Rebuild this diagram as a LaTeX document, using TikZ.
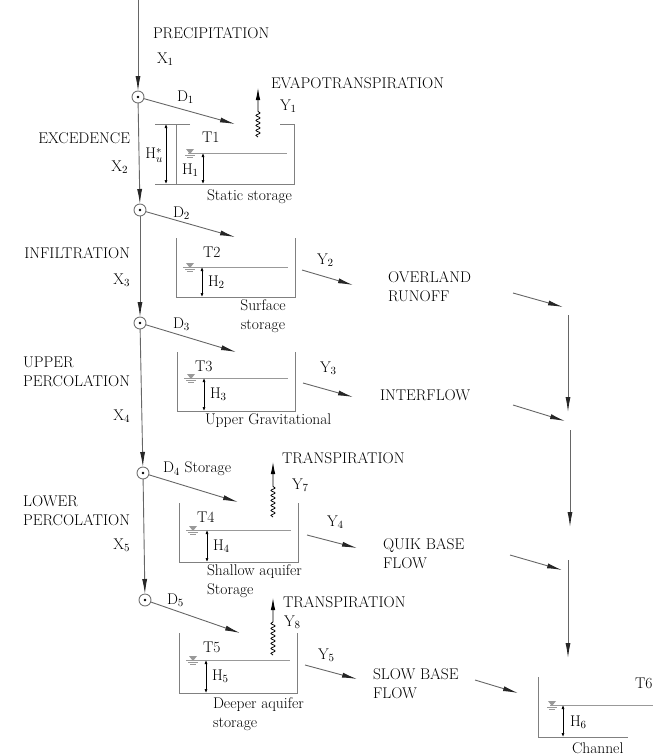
\documentclass[tikz,border=0pt]{standalone}
\usepackage{amsmath}
\usepackage{tikz}
\usetikzlibrary{arrows.meta,positioning,decorations.pathmorphing}

\begin{document}
\begin{tikzpicture}[
  x=1pt,y=-1pt,
  font=\fontsize{15.5}{19}\selectfont,
  every node/.style={inner sep=0pt,outer sep=0pt},
  lbl/.style={anchor=west,align=left},
  lblr/.style={anchor=east,align=left},
  junc/.style={circle,draw=black!55,line width=0.9pt,minimum size=12pt,
               path picture={\fill (path picture bounding box.center) circle (1.4pt);}},
  flow/.style={draw=black!60,line width=0.9pt,-{Latex[length=15pt,width=5pt,color=black!85]}},
  wall/.style={draw=black!50,line width=1pt},
  wline/.style={draw=black!40,line width=0.8pt},
  dim/.style={line width=0.7pt,{Latex[length=4pt,width=3pt]}-{Latex[length=4pt,width=3pt]}},
  wavy/.style={line width=0.8pt,decorate,
               decoration={snake,amplitude=2pt,segment length=5pt,post length=22pt},
               -{Latex[length=12pt,width=4.5pt]}},
  wlev/.pic={
    \fill[black!40] (-4,-4) -- (4,-4) -- (0,1) -- cycle;
    \draw[black!40,line width=0.7pt] (-5,2) -- (5,2) (-3,4) -- (3,4);}
]
\useasboundingbox (0,0) rectangle (653,755);

% main column of junctions
\coordinate (top) at (138,0);
\node[junc] (j1) at (138,97) {};
\node[junc] (j2) at (140,210) {};
\node[junc] (j3) at (140,323) {};
\node[junc] (j4) at (143,473) {};
\node[junc] (j5) at (145,600) {};
\draw[flow] (top) -- (j1);
\draw[flow] (j1) -- (j2);
\draw[flow] (j2) -- (j3);
\draw[flow] (j3) -- (j4);
\draw[flow] (j4) -- (j5);

% tank inlets
\coordinate (in1) at (235,124);
\coordinate (in2) at (235,237);
\coordinate (in3) at (236,352);
\coordinate (in4) at (238,502);
\coordinate (in5) at (240,633);
\foreach \n in {1,...,5}{
  \draw[flow] (j\n) -- (in\n);
}

% left labels
\node[lbl] (prec) at (153,33) {PRECIPITATION};
\node[lbl] (x1) at (157,59) {X$_1$};
\node[lblr] (exc) at (130,138) {EXCEDENCE};
\node[lblr] (x2) at (128,167) {X$_2$};
\node[lblr] (infil) at (130,253) {INFILTRATION};
\node[lblr] (x3) at (130,280) {X$_3$};
\node[lblr] (upper) at (130,372) {UPPER\\PERCOLATION};
\node[lblr] (x4) at (130,416) {X$_4$};
\node[lblr] (lower) at (130,511) {LOWER\\PERCOLATION};
\node[lblr] (x5) at (130,545) {X$_5$};
\node[lbl] (d1) at (177,97) {D$_1$};
\node[lbl] (d2) at (173,213) {D$_2$};
\node[lbl] (d3) at (173,324) {D$_3$};
\node[lbl] (d4) at (163,469) {D$_4$ Storage};
\node[lbl] (d5) at (167,600) {D$_5$};

% static storage tank
\draw[wall] (190,124) -- (176,124) -- (176,184) -- (294,184) -- (294,124) -- (280,124);
\draw[wline] (188,153) -- (287,153);
\pic at (190,153) {wlev};
\draw[dim] (203,153) -- (203,184);
\draw[black!50,line width=0.6pt] (155,124) -- (176,124) (155,184) -- (176,184);
\draw[dim] (166,124) -- (166,184);
\node[anchor=east] (hu) at (163,155) {H$_u^*$};
\node[lbl] (t1) at (202,137) {T1};
\node[lbl] (h1) at (182,170) {H$_1$};
\node[lbl] (static) at (207,197) {Static storage};

% storage tanks 2 to 5
\foreach \n/\xl/\xr/\yt/\yb/\yw/\xd/\xt in {2/176/295/238/297/267/202/203,
    3/177/295/352/411/378/204/195, 4/179/298/503/562/530/207/197,
    5/179/297/633/693/660/206/203}{
  \draw[wall] (\xl,\yt) -- (\xl,\yb) -- (\xr,\yb) -- (\xr,\yt);
  \draw[wline] (\xl+7,\yw) -- (\xr-7,\yw);
  \pic at (\xl+14,\yw) {wlev};
  \draw[dim] (\xd,\yw) -- (\xd,\yb);
  \node[lbl] (t\n) at (\xt,\yt+14) {T\n};
  \node[lbl] (h\n) at (\xd+6,{(\yw+\yb)/2}) {H$_\n$};
}
\node[align=center] (surf) at (263,316) {Surface\\storage};
\node[lbl] (uppgrav) at (205,421) {Upper Gravitational};
\node[lbl] (shallow) at (207,581) {Shallow aquifer\\Storage};
\node[lbl] (deeper) at (213,714) {Deeper aquifer\\storage};

% evapotranspiration and transpiration
\coordinate (e1a) at (258,137); \coordinate (e1b) at (258,88);
\coordinate (e2a) at (273,517); \coordinate (e2b) at (273,462);
\coordinate (e3a) at (273,655); \coordinate (e3b) at (273,598);
\draw[wavy] (e1a) -- (e1b);
\draw[wavy] (e2a) -- (e2b);
\draw[wavy] (e3a) -- (e3b);
\node[lbl] (evap) at (271,83) {EVAPOTRANSPIRATION};
\node[lbl] (y1) at (280,106) {Y$_1$};
\node[lbl] (trans1) at (282,458) {TRANSPIRATION};
\node[lbl] (y7) at (292,485) {Y$_7$};
\node[lbl] (trans2) at (283,602) {TRANSPIRATION};
\node[lbl] (y8) at (284,622) {Y$_8$};

% outflows
\node[lbl] (y2) at (317,260) {Y$_2$};
\node[lbl] (y3) at (320,368) {Y$_3$};
\node[lbl] (y4) at (327,522) {Y$_4$};
\node[lbl] (y5) at (318,655) {Y$_5$};
\node[lbl] (overland) at (388,287) {OVERLAND\\RUNOFF};
\node[lbl] (interflow) at (380,395) {INTERFLOW};
\node[lbl] (quik) at (383,554) {QUIK BASE\\FLOW};
\node[lbl] (slow) at (373,684) {SLOW BASE\\FLOW};
\coordinate (o2a) at (302,270); \coordinate (o2b) at (353,285);
\coordinate (o3a) at (303,383); \coordinate (o3b) at (353,397);
\coordinate (o4a) at (307,535); \coordinate (o4b) at (357,548);
\coordinate (o5a) at (305,665); \coordinate (o5b) at (357,679);
\coordinate (r2a) at (513,293); \coordinate (r2b) at (563,307);
\coordinate (r3a) at (513,405); \coordinate (r3b) at (565,421);
\coordinate (r4a) at (510,555); \coordinate (r4b) at (562,570);
\coordinate (r5a) at (475,680); \coordinate (r5b) at (518,693);
\foreach \n in {2,...,5}{
  \draw[flow] (o\n a) -- (o\n b);
  \draw[flow] (r\n a) -- (r\n b);
}
\coordinate (c1) at (568,315); \coordinate (c2) at (568,412);
\coordinate (c3) at (570,430); \coordinate (c4) at (570,527);
\coordinate (c5) at (568,560); \coordinate (c6) at (568,658);
\draw[flow] (c1) -- (c2);
\draw[flow] (c3) -- (c4);
\draw[flow] (c5) -- (c6);

% channel
\draw[wall] (538,677) -- (538,737) -- (628,737);
\draw[wline] (550,705) -- (653,705);
\pic at (552,705) {wlev};
\draw[dim] (563,705) -- (563,737);
\node[lbl] (t6) at (635,683) {T6};
\node[lbl] (h6) at (570,722) {H$_6$};
\node[lbl] (channel) at (572,748) {Channel};
\end{tikzpicture}
\end{document}
